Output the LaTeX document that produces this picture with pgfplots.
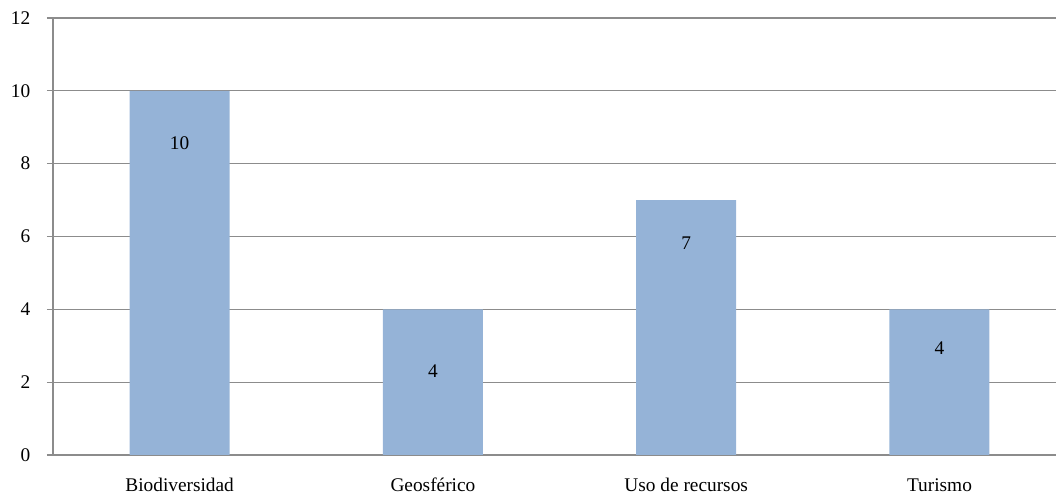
\documentclass[border=0pt]{standalone}
\usepackage{fontspec}
\setmainfont{Liberation Serif}
\usepackage{pgfplots}
\pgfplotsset{compat=1.18}
\definecolor{barblue}{HTML}{95B3D7}
\definecolor{gridgray}{HTML}{8C8C8C}

\begin{document}
\begin{tikzpicture}
    \begin{axis}[
            scale only axis,
            width=752.25pt,
            height=327.75pt,
            xmin=-0.5, xmax=3.46,
            ymin=0, ymax=12,
            ytick={0,2,...,12},
            xtick={0,1,2,3},
            xticklabels={Biodiversidad, Geosférico, Uso de recursos, Turismo},
            minor xtick={-0.5,0.5,1.5,2.5},
            axis x line*=bottom,
            axis y line*=left,
            axis line style={gridgray, line width=0.9pt, -},
            tick align=outside,
            major tick length=4.5pt,
            minor tick length=4.5pt,
            xtick style={draw=none},
            minor x tick style={gridgray, line width=0.9pt},
            ytick style={gridgray, line width=0.9pt},
            ymajorgrids,
            grid style={gridgray, line width=0.9pt},
            font=\fontsize{14.5}{17}\selectfont,
            /pgf/number format/assume math mode=true,
            yticklabel style={xshift=-9pt},
            xticklabel style={yshift=-9pt, text height=10pt, text depth=3pt},
            clip=false,
        ]

        % bars
        \addplot[ybar, bar width=75pt, fill=barblue, draw=none] coordinates {
                (0,10) (1,4) (2,7) (3,4)
            };

        % data labels inside the bars
        \addplot[only marks, mark=none, nodes near coords, point meta=explicit symbolic,
            every node near coord/.style={anchor=center, font=\fontsize{14.5}{17}\selectfont}]
            coordinates {
                (0,8.57)[10] (1,2.3)[4] (2,5.82)[7] (3,2.94)[4]
            };

        \coordinate (sw) at (rel axis cs:0,0);
        \coordinate (ne) at (rel axis cs:1,1);
    \end{axis}
    \pgfresetboundingbox
    \path ([shift={(-39.75pt,-30pt)}]sw) rectangle ([shift={(0pt,13.5pt)}]ne);
\end{tikzpicture}
\end{document}
